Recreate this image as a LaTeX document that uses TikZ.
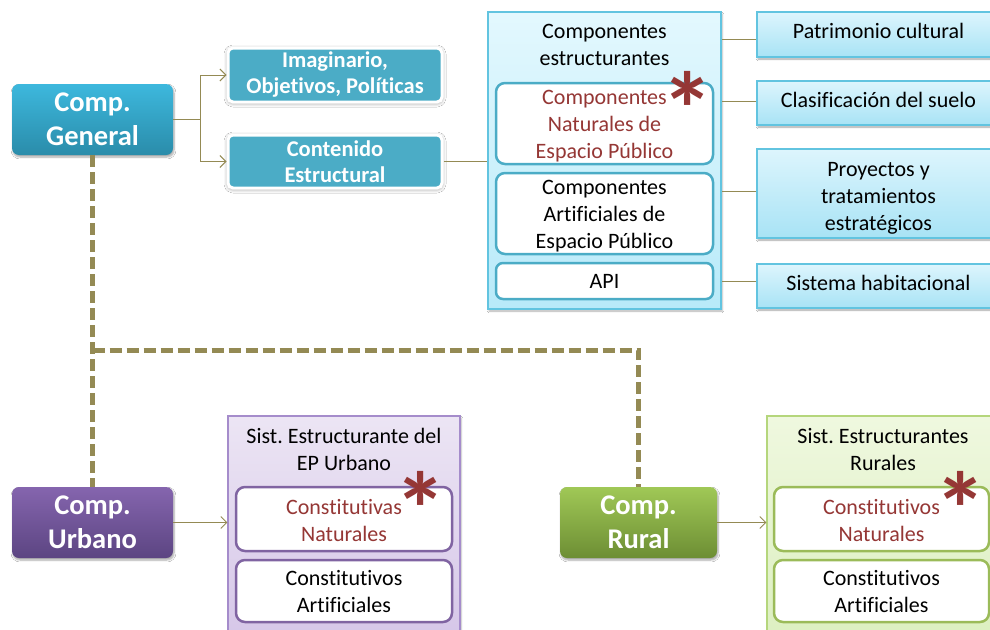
\documentclass[tikz,border=0pt]{standalone}
\usepackage{fontspec}
\setmainfont{Carlito}[Ligatures=NoCommon]
\frenchspacing
\usetikzlibrary{arrows.meta,shadows.blur}
\definecolor{olivel}{HTML}{948A54}
\definecolor{gbtop}{HTML}{3DB8DD}
\definecolor{gbbot}{HTML}{2A8CAA}
\definecolor{tealf}{HTML}{4BACC6}
\definecolor{cbtop}{HTML}{E3F8FE}
\definecolor{cbbot}{HTML}{B8EAF9}
\definecolor{cbdraw}{HTML}{62C4E0}
\definecolor{rbtop}{HTML}{DDF5FD}
\definecolor{rbbot}{HTML}{A8E3F5}
\definecolor{redt}{HTML}{953735}
\definecolor{putop}{HTML}{8565AE}
\definecolor{pubot}{HTML}{5C4582}
\definecolor{pctop}{HTML}{ECE5F4}
\definecolor{pcbot}{HTML}{D5C6E8}
\definecolor{pcdraw}{HTML}{A58CCB}
\definecolor{pindraw}{HTML}{8064A2}
\definecolor{grtop}{HTML}{A0C856}
\definecolor{grbot}{HTML}{6D8E34}
\definecolor{gctop}{HTML}{EFF8DF}
\definecolor{gcbot}{HTML}{DCEFC0}
\definecolor{gcdraw}{HTML}{B5D67C}
\definecolor{gindraw}{HTML}{9BBB59}
\tikzset{
  txt/.style={font=\fontsize{22}{27}\selectfont, align=center, inner sep=0pt},
  comp/.style={rounded corners=7pt, minimum width=161pt, minimum height=71pt,
    text=white, font=\fontsize{28.5}{34}\selectfont\bfseries, align=center, inner sep=0pt,
    blur shadow={shadow xshift=1pt, shadow yshift=-2pt, shadow blur steps=6, shadow opacity=35}},
  tealbox/.style={rounded corners=5pt, fill=tealf, draw=white, line width=3pt,
    minimum width=214pt, text=white, font=\fontsize{22.5}{26}\selectfont\bfseries, align=center, inner sep=0pt,
    blur shadow={shadow xshift=0pt, shadow yshift=-1pt, shadow blur radius=4pt, shadow blur steps=6, shadow opacity=45}},
  container/.style={rectangle, minimum width=#1, inner sep=0pt,
    blur shadow={shadow xshift=1pt, shadow yshift=-2pt, shadow blur steps=5, shadow opacity=30}},
  inbox/.style={rounded corners=9pt, fill=white, line width=2.5pt, inner sep=0pt},
  rbox/.style={rectangle, top color=rbtop, bottom color=rbbot, draw=cbdraw, line width=1.2pt,
    minimum width=243pt, inner sep=0pt,
    blur shadow={shadow xshift=1pt, shadow yshift=-2pt, shadow blur steps=5, shadow opacity=35}},
  conn/.style={draw=olivel, line width=0.9pt},
  arr/.style={conn, -{Straight Barb[length=6pt, width=12pt, line width=0.9pt]}},
  dline/.style={draw=olivel, line width=5pt, dash pattern=on 12pt off 5pt},
  star/.style={text=redt, font=\fontsize{105}{105}\selectfont\bfseries, inner sep=0pt}
}
\begin{document}
\begin{tikzpicture}[x=1pt,y=-1pt]
\useasboundingbox (0,0) rectangle (990,629);
\clip (0,0) rectangle (990,629);
\fill[white] (0,0) rectangle (990,629);

% component nodes and dashed connectors
\node[comp, top color=gbtop, bottom color=gbbot] (gen) at (92.5,119.5) {Comp.\\General};
\node[comp, top color=putop, bottom color=pubot] (urb) at (92.5,522.5) {Comp.\\Urbano};
\node[comp, minimum width=157pt, top color=grtop, bottom color=grbot] (rur) at (638.5,522.5) {Comp.\\Rural};
\coordinate (corner) at (92.5,350);
\path[dline] (gen.south) -- (urb.north);
\path[dline] (corner) -| (rur.north);

% teal boxes
\node[tealbox, minimum height=54pt] (imag) at (335,75) {Imaginario,\\Objetivos, Políticas};
\node[tealbox, minimum height=53pt] (cont) at (335,161.5) {Contenido\\Estructural};
\path[arr] (gen.east) -- ++(27,0) |- (imag.west);
\path[arr] (gen.east) -- ++(27,0) |- (cont.west);

% blue container
\node[container=233pt, minimum height=297pt, top color=cbtop, bottom color=cbbot, draw=cbdraw, line width=1.2pt] (bc) at (604.5,160.5) {};
\node[txt] (bct) at (604.5,44.5) {Componentes\\estructurantes};
\node[inbox, draw=tealf, minimum width=217pt, minimum height=81pt] (bn) at (604.5,123.5) {};
\node[txt, text=redt] (bnt) at (604.5,126.5) {Componentes\\Naturales de\\Espacio Público};
\node[inbox, draw=tealf, minimum width=217pt, minimum height=81pt] (ba) at (604.5,213.5) {};
\node[txt] (bat) at (604.5,216.5) {Componentes\\Artificiales de\\Espacio Público};
\node[inbox, draw=tealf, minimum width=217pt, minimum height=36pt, rounded corners=7pt] (bapi) at (604.5,281) {};
\node[txt] (bapit) at (604.5,281) {API};
\node[star] (s1) at (688,109) {*};
\path[conn] (cont.east) -- (cont.east -| bc.west);

% right boxes
\node[rbox, minimum height=45pt] (pat) at (878.5,34.5) {};
\node[txt] (patt) at (878.5,30.5) {Patrimonio cultural};
\node[rbox, minimum height=44pt] (cla) at (878.5,103) {};
\node[txt] (clat) at (878.5,100) {Clasificación del suelo};
\node[rbox, minimum height=89pt] (pro) at (878.5,193.5) {};
\node[txt] (prot) at (878.5,198) {Proyectos y\\tratamientos\\estratégicos};
\node[rbox, minimum height=44pt] (sis) at (878.5,286) {};
\node[txt] (sist) at (878.5,283) {Sistema habitacional};
\path[conn] ([yshift=-4.5pt]pat.west) -- ([yshift=-4.5pt]pat.west -| bc.east);
\path[conn] ([yshift=2pt]cla.west) -- ([yshift=2pt]cla.west -| bc.east);
\path[conn] ([yshift=2.5pt]pro.west) -- ([yshift=2.5pt]pro.west -| bc.east);
\path[conn] ([yshift=5pt]sis.west) -- ([yshift=5pt]sis.west -| bc.east);

% purple container
\node[container=232pt, minimum height=226pt, top color=pctop, bottom color=pcbot, draw=pcdraw, line width=1.2pt] (pc) at (344,529) {};
\node[txt] (pct) at (344,449.5) {Sist. Estructurante del\\EP Urbano};
\node[inbox, draw=pindraw, minimum width=216pt, minimum height=64pt] (pn) at (344,519) {};
\node[txt, text=redt] (pnt) at (344,521) {Constitutivas\\Naturales};
\node[inbox, draw=pindraw, minimum width=216pt, minimum height=62pt] (pa) at (344,591) {};
\node[txt] (pat2) at (344,592) {Constitutivos\\Artificiales};
\node[star] (s2) at (421,509) {*};
\path[arr] (urb.east) -- (urb.east -| pc.west);

% green container
\node[container=230pt, minimum height=226pt, top color=gctop, bottom color=gcbot, draw=gcdraw, line width=1.2pt] (gc) at (882,529) {};
\node[txt] (gct) at (883,449.5) {Sist. Estructurantes\\Rurales};
\node[inbox, draw=gindraw, minimum width=215pt, minimum height=64pt] (gn) at (881.5,519) {};
\node[txt, text=redt] (gnt) at (881.5,521) {Constitutivos\\Naturales};
\node[inbox, draw=gindraw, minimum width=215pt, minimum height=62pt] (ga) at (881.5,591) {};
\node[txt] (gat) at (881.5,592) {Constitutivos\\Artificiales};
\node[star] (s3) at (961,509) {*};
\path[arr] (rur.east) -- (rur.east -| gc.west);
\end{tikzpicture}
\end{document}
